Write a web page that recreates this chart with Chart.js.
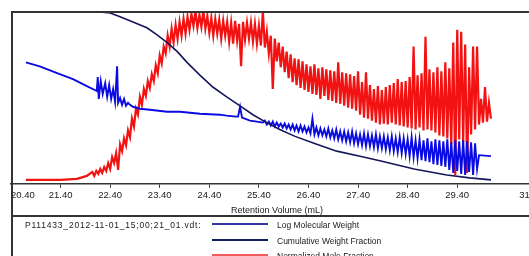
<!DOCTYPE html>
<html>
<head>
<meta charset="utf-8">
<script src="https://cdn.jsdelivr.net/npm/chart.js@4/dist/chart.umd.min.js"></script>
<style>
    html, body { margin: 0; padding: 0; background: #fff; }
    body { width: 529px; height: 256px; overflow: hidden; position: relative; font-family: "Liberation Sans", Arial, sans-serif; color: #1a1a1a; }
    #chartBox { position: absolute; left: 0; top: 0; }
    .rule { position: absolute; background: #333; }
    .legend-row { position: absolute; left: 0; height: 12px; font-size: 8.5px; line-height: 12px; white-space: nowrap; }
    .legend-line { position: absolute; left: 212px; width: 56px; height: 2px; }
    .legend-text { position: absolute; left: 277px; top: -6px; }
    #fileName { position: absolute; left: 25px; top: -6px; letter-spacing: 0.8px; }
</style>
</head>
<body>
<div id="chartBox"><canvas id="mwdChart" width="545" height="216"></canvas></div>
<div class="rule" style="left:11px; top:11px; width:534px; height:2px;"></div>
<div class="rule" style="left:11px; top:11px; width:2px; height:245px;"></div>
<div class="rule" style="left:11px; top:215px; width:534px; height:2px;"></div>
<div id="legend"></div>

<script>
// Fichier et libellés
const fileLabel = 'P111433_2012-11-01_15;00;21_01.vdt:';
const seriesNames = ['Log Molecular Weight', 'Cumulative Weight Fraction', 'Normalized Mole Fraction'];
const seriesColors = ['#0a0ae2', '#16165c', '#f21212'];
const legendColors = ['#3434a4', '#16205e', '#f05a5a'];

// Axe X (volume de rétention, mL)
const xMin = 20.40;
const xMax = 31.13;
const tickValues = [20.40, 21.40, 22.40, 23.40, 24.40, 25.40, 26.40, 27.40, 28.40, 29.40, 31.13];

// Fraction cumulée
const cumVol = [22.19, 22.40, 22.60, 22.86, 23.14, 23.34, 23.55, 23.75, 23.95, 24.21, 24.47, 24.75, 25.02,
    25.28, 25.52, 25.82, 26.13, 26.51, 26.97, 27.44, 27.86, 28.53, 29.19, 29.65, 30.08];
const cumFrac = [1.000, 0.994, 0.971, 0.941, 0.906, 0.865, 0.818, 0.765, 0.700, 0.624, 0.553, 0.494, 0.441,
    0.388, 0.347, 0.300, 0.259, 0.218, 0.171, 0.141, 0.112, 0.065, 0.029, 0.012, 0.000];

// Log masse moléculaire (réponse relative)
const blueHeadVol = [20.70, 20.98, 21.33, 21.65, 21.93, 22.09, 22.13, 22.15, 22.17, 22.21, 22.25, 22.30, 22.34,
    22.38, 22.42, 22.46, 22.50, 22.54, 22.56, 22.60, 22.64, 22.68, 22.72, 22.76, 22.80, 22.86, 23.00, 23.20,
    23.55, 23.81, 24.21, 24.61, 24.75, 24.94, 24.98, 25.02, 25.06, 25.22, 25.36, 25.48];
const blueHead = [123, 119, 112, 106, 99, 95, 94, 108, 86, 104, 91, 102, 88, 100, 86, 96, 83, 119, 82, 87,
    80, 86, 79, 82, 80, 78, 76, 75, 73, 73, 71, 70, 69, 68, 68, 78, 67, 64, 63, 62];
const blueStart = 25.52;
const blueStep = 0.04;
const blueNoise = [
    64, 60, 63, 59, 63, 58, 62, 58, 61, 57,
    61, 56, 60, 55, 60, 54, 59, 53, 59, 53,
    58, 52, 57, 51, 66, 50, 57, 49, 56, 49,
    55, 48, 56, 47, 54, 46, 55, 45, 53, 44,
    53, 43, 52, 42, 53, 41, 51, 40, 50, 39,
    51, 38, 50, 38, 49, 37, 50, 36, 48, 36,
    48, 35, 47, 34, 48, 33, 46, 32, 47, 31,
    46, 30, 45, 28, 47, 27, 44, 26, 45, 24,
    44, 23, 46, 22, 43, 20, 45, 19, 44, 18,
    43, 17, 45, 14, 42, 11, 44, 13, 43, 10,
    44, 9, 43, 12, 42, 9, 41, 15];
const blueTailVol = [29.84, 30.08];
const blueTail = [29, 28];

// Fraction normalisée (réponse relative)
const redHeadVol = [20.70, 21.40, 21.73, 21.93];
const redHead = [4, 4, 5, 8];
const redStart = 22.04;
const redStep = 0.04;
const redNoise = [
    12, 8, 13, 10, 15, 11, 17, 13, 21, 15,
    27, 21, 31, 14, 40, 33, 46, 39, 54, 47,
    66, 58, 76, 70, 88, 80, 96, 89, 104, 97,
    111, 104, 120, 112, 130, 122, 139, 132, 150, 139,
    157, 143, 161, 147, 164, 150, 167, 152, 169, 156,
    172, 160, 175, 158, 171, 159, 175, 157, 170, 153,
    168, 150, 167, 152, 166, 147, 165, 150, 164, 144,
    163, 142, 165, 145, 162, 119, 164, 146, 163, 147,
    163, 144, 162, 142, 160, 140, 175, 138, 154, 132,
    150, 96, 147, 124, 143, 118, 139, 113, 134, 107,
    131, 103, 127, 100, 126, 97, 124, 95, 121, 93,
    119, 91, 121, 90, 117, 86, 118, 89, 116, 85,
    115, 84, 114, 82, 123, 81, 113, 79, 112, 77,
    111, 76, 109, 74, 114, 70, 103, 67, 113, 66,
    100, 64, 96, 62, 99, 60, 95, 61, 98, 60,
    100, 62, 102, 60, 106, 59, 103, 58, 104, 57,
    108, 56, 139, 55, 110, 57, 112, 54, 149, 55,
    116, 54, 113, 52, 118, 49, 114, 48, 123, 46,
    117, 40, 143, 9, 156, 45, 154, 42, 141, 11,
    118, 50, 139, 55, 139, 60, 86, 62, 98, 63,
    82, 66];

// Construire les points
function pairs(vols, vals) {
    return vols.map((v, i) => ({ x: v, y: vals[i] }));
}

function sampled(start, step, vals) {
    return vals.map((y, i) => ({ x: +(start + i * step).toFixed(3), y: y }));
}

const cumPoints = pairs(cumVol, cumFrac);
const bluePoints = pairs(blueHeadVol, blueHead)
    .concat(sampled(blueStart, blueStep, blueNoise))
    .concat(pairs(blueTailVol, blueTail));
const redPoints = pairs(redHeadVol, redHead).concat(sampled(redStart, redStep, redNoise));

// Légende
function buildLegend() {
    const legend = document.getElementById('legend');
    const rowsTop = [225, 241, 256];

    const file = document.createElement('div');
    file.className = 'legend-row';
    file.style.top = rowsTop[0] + 'px';
    file.innerHTML = `<span id="fileName">${fileLabel}</span>`;
    legend.appendChild(file);

    seriesNames.forEach((name, i) => {
        const row = document.createElement('div');
        row.className = 'legend-row';
        row.style.top = rowsTop[i] + 'px';
        row.innerHTML = `
            <div class="legend-line" style="top:-2px; background:${legendColors[i]}"></div>
            <span class="legend-text">${name}</span>
        `;
        legend.appendChild(row);
    });
}

buildLegend();

new Chart(document.getElementById('mwdChart'), {
    type: 'line',
    data: {
        datasets: [{
            label: seriesNames[1],
            data: cumPoints,
            yAxisID: 'yCum',
            borderColor: seriesColors[1],
            borderWidth: 1.6,
            pointRadius: 0,
            tension: 0,
            order: 1
        }, {
            label: seriesNames[0],
            data: bluePoints,
            yAxisID: 'yResp',
            borderColor: seriesColors[0],
            borderWidth: 1.9,
            pointRadius: 0,
            tension: 0,
            order: 2
        }, {
            label: seriesNames[2],
            data: redPoints,
            yAxisID: 'yResp',
            borderColor: seriesColors[2],
            borderWidth: 2.2,
            pointRadius: 0,
            tension: 0,
            order: 3
        }]
    },
    options: {
        responsive: false,
        animation: false,
        devicePixelRatio: 1,
        layout: {
            padding: { left: 11, top: 11, right: 2, bottom: 0 }
        },
        plugins: {
            legend: { display: false },
            tooltip: { enabled: false }
        },
        scales: {
            x: {
                type: 'linear',
                min: xMin,
                max: xMax,
                afterBuildTicks: axis => {
                    axis.ticks = tickValues.map(v => ({ value: v }));
                },
                ticks: {
                    align: 'inner',
                    autoSkip: false,
                    maxRotation: 0,
                    padding: 2,
                    color: '#1a1a1a',
                    font: { family: 'Liberation Sans', size: 9.5 },
                    callback: value => value.toFixed(2)
                },
                grid: {
                    display: true,
                    drawOnChartArea: false,
                    drawTicks: true,
                    tickLength: 4,
                    color: '#333'
                },
                border: { display: true, color: '#333', width: 1.5 },
                title: {
                    display: true,
                    text: 'Retention Volume (mL)',
                    color: '#1a1a1a',
                    font: { family: 'Liberation Sans', size: 9 },
                    padding: { top: 2, bottom: 0 }
                }
            },
            yResp: { display: false, min: 0, max: 175 },
            yCum: { display: false, min: -0.0235, max: 1.0059 }
        }
    }
});
</script>
</body>
</html>
